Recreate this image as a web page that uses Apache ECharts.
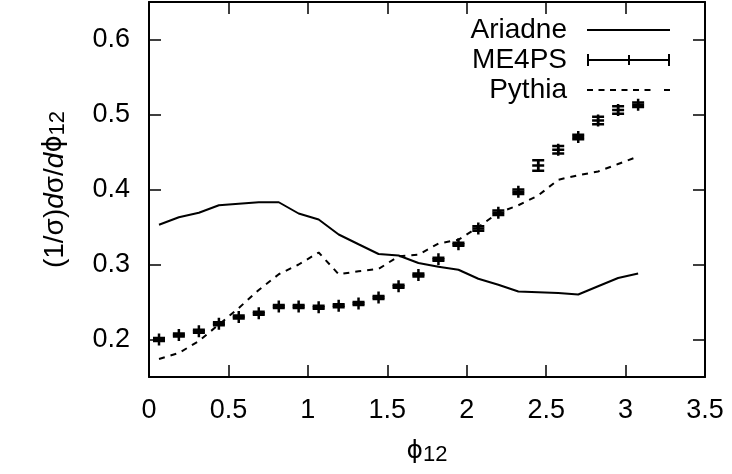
<!DOCTYPE html>
<html><head><meta charset="utf-8">
<script src="https://cdn.jsdelivr.net/npm/echarts@6/dist/echarts.min.js"></script>
<style>html,body{margin:0;padding:0;background:#fff}#c{width:732px;height:474px}</style>
</head><body><div id="c"></div>
<script>
// ---- data ----
const phi12 = [0.063, 0.188, 0.314, 0.440, 0.565, 0.691, 0.817, 0.942, 1.068, 1.194, 1.319, 1.445, 1.571,
               1.696, 1.822, 1.948, 2.073, 2.199, 2.325, 2.450, 2.576, 2.702, 2.827, 2.953, 3.079];
const ariadne = [0.353, 0.363, 0.369, 0.379, 0.381, 0.383, 0.383, 0.368, 0.360, 0.340, 0.327, 0.314, 0.312,
                 0.302, 0.297, 0.293, 0.281, 0.273, 0.264, 0.263, 0.262, 0.260, 0.271, 0.282, 0.288];
const me4ps = [0.200, 0.206, 0.211, 0.221, 0.230, 0.235, 0.244, 0.244, 0.243, 0.245, 0.248, 0.256, 0.271,
               0.286, 0.307, 0.327, 0.348, 0.369, 0.397, 0.432, 0.453, 0.470, 0.492, 0.506, 0.513];
const me4psErr = [0.002, 0.002, 0.002, 0.002, 0.002, 0.002, 0.002, 0.002, 0.002, 0.002, 0.002, 0.002, 0.002,
                  0.002, 0.002, 0.002, 0.003, 0.003, 0.003, 0.007, 0.005, 0.003, 0.005, 0.005, 0.003];
const pythia = [0.174, 0.182, 0.198, 0.220, 0.242, 0.266, 0.287, 0.300, 0.316, 0.287, 0.291, 0.294, 0.311,
                0.313, 0.328, 0.333, 0.350, 0.369, 0.379, 0.392, 0.413, 0.419, 0.424, 0.434, 0.444];
const yTickValues = [0.2, 0.3, 0.4, 0.5, 0.6];
const seriesNames = ['Ariadne', 'ME4PS', 'Pythia'];

const FONT = "'Liberation Sans', Arial, Helvetica, sans-serif";
const PHIFONT = "'DejaVu Sans', 'Liberation Sans', sans-serif";
const BLACK = '#000';

const ariadneData = phi12.map((x, i) => [x, ariadne[i]]);
const pythiaData = phi12.map((x, i) => [x, pythia[i]]);
const me4psData = phi12.map((x, i) => [x, me4ps[i], me4psErr[i]]);

function renderErr(params, api) {
  const x = api.value(0), y = api.value(1), e = api.value(2);
  const c = api.coord([x, y]);
  const hi = api.coord([x, y + e]);
  const lo = api.coord([x, y - e]);
  const h = 6, cap = 6;
  const st = { stroke: BLACK, lineWidth: 2.5, fill: null };
  return {
    type: 'group',
    children: [
      { type: 'line', shape: { x1: c[0] - h, y1: c[1], x2: c[0] + h, y2: c[1] }, style: st },
      { type: 'line', shape: { x1: c[0], y1: c[1] - h, x2: c[0], y2: c[1] + h }, style: st },
      { type: 'line', shape: { x1: c[0], y1: hi[1], x2: c[0], y2: lo[1] }, style: st },
      { type: 'line', shape: { x1: c[0] - cap, y1: hi[1], x2: c[0] + cap, y2: hi[1] }, style: st },
      { type: 'line', shape: { x1: c[0] - cap, y1: lo[1], x2: c[0] + cap, y2: lo[1] }, style: st }
    ]
  };
}

const axisLine = { show: true, onZero: false, lineStyle: { color: BLACK, width: 2 } };
const tickStyle = { color: BLACK, width: 1.5 };

const chart = echarts.init(document.getElementById('c'), null, { renderer: 'canvas' });
chart.setOption({
  animation: false,
  backgroundColor: '#fff',
  textStyle: { fontFamily: FONT, color: BLACK },
  grid: { left: 149, right: 27, top: 2, bottom: 97, containLabel: false },
  xAxis: [
    {
      type: 'value', min: 0, max: 3.5, interval: 0.5, position: 'bottom',
      axisLine: axisLine,
      axisTick: { show: true, inside: true, length: 12, lineStyle: tickStyle },
      axisLabel: { show: true, margin: 20, fontSize: 27, fontFamily: FONT, color: BLACK,
                   formatter: v => String(v) },
      splitLine: { show: false },
      name: '{m|ϕ}{s|12}', nameLocation: 'middle', nameGap: 62,
      nameTextStyle: {
        color: BLACK, fontFamily: FONT,
        rich: {
          m: { fontSize: 25, lineHeight: 27, verticalAlign: 'top', fontFamily: PHIFONT, color: BLACK },
          s: { fontSize: 22, lineHeight: 22, verticalAlign: 'bottom', padding: [10, 0, 0, 0], fontFamily: FONT, color: BLACK }
        }
      }
    },
    {
      type: 'value', min: 0, max: 3.5, interval: 0.5, position: 'top',
      axisLine: axisLine,
      axisTick: { show: true, inside: true, length: 12, lineStyle: tickStyle },
      axisLabel: { show: false },
      splitLine: { show: false }
    }
  ],
  yAxis: [
    {
      type: 'value', min: 0.15, max: 0.65, position: 'left',
      axisLine: axisLine,
      axisTick: { show: true, inside: true, length: 12, lineStyle: tickStyle, customValues: yTickValues },
      axisLabel: { show: true, margin: 19, fontSize: 27, fontFamily: FONT, color: BLACK,
                   customValues: yTickValues, formatter: v => v.toFixed(1) },
      splitLine: { show: false },
      name: '(1/σ){i|d}σ/{i|d}{p|ϕ}{s|12}', nameLocation: 'middle', nameGap: 108, nameRotate: 90,
      nameTextStyle: {
        color: BLACK, fontFamily: FONT,
        rich: {
          i: { fontSize: 28, lineHeight: 28, verticalAlign: 'top', fontStyle: 'italic', fontFamily: FONT, color: BLACK },
          p: { fontSize: 26, lineHeight: 28, verticalAlign: 'top', fontFamily: PHIFONT, color: BLACK },
          s: { fontSize: 22, lineHeight: 22, verticalAlign: 'bottom', padding: [10, 0, 0, 0], fontFamily: FONT, color: BLACK }
        },
        fontSize: 28, lineHeight: 28, verticalAlign: 'top'
      }
    },
    {
      type: 'value', min: 0.15, max: 0.65, position: 'right',
      axisLine: axisLine,
      axisTick: { show: true, inside: true, length: 12, lineStyle: tickStyle, customValues: yTickValues },
      axisLabel: { show: false, customValues: yTickValues },
      splitLine: { show: false }
    }
  ],
  legend: {
    orient: 'vertical', right: 62, top: 16, padding: 0, itemGap: 2,
    itemWidth: 83, itemHeight: 12, align: 'right', selectedMode: false,
    textStyle: { fontSize: 28, fontFamily: FONT, color: BLACK, padding: [0, 15, 0, 0] },
    data: [
      { name: seriesNames[0], icon: 'path://M0,5H83V7H0Z' },
      { name: seriesNames[1], icon: 'path://M0,5H83V7H0Z M0,0H2V12H0Z M81,0H83V12H81Z M41,1H43V11H41Z' },
      { name: seriesNames[2], icon: 'path://M0,5H6V7H0Z M11.5,5H17.5V7H11.5Z M23,5H29V7H23Z M34.5,5H40.5V7H34.5Z M46,5H52V7H46Z M57.5,5H63.5V7H57.5Z M77,5H83V7H77Z' }
    ]
  },
  series: [
    {
      name: seriesNames[0], type: 'line', data: ariadneData, symbol: 'none', color: BLACK,
      itemStyle: { color: BLACK }, lineStyle: { color: BLACK, width: 2 }, z: 3
    },
    {
      name: seriesNames[1], type: 'custom', data: me4psData, renderItem: renderErr,
      encode: { x: 0, y: 1 }, color: BLACK, itemStyle: { color: BLACK }, z: 4
    },
    {
      name: seriesNames[2], type: 'line', data: pythiaData, symbol: 'none', color: BLACK,
      itemStyle: { color: BLACK }, lineStyle: { color: BLACK, width: 2, type: [6, 6] }, z: 3
    }
  ]
});
</script>
</body></html>
